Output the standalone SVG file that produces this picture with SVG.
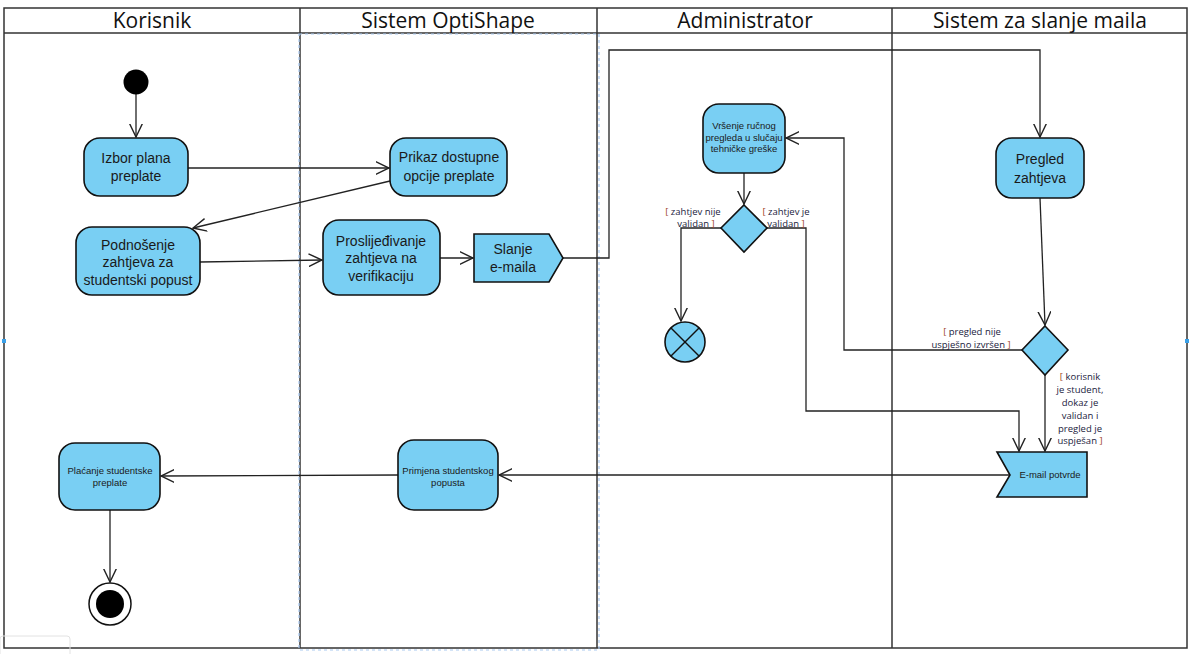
<svg xmlns="http://www.w3.org/2000/svg" width="1194" height="654" viewBox="0 0 1194 654">
<defs>
<style>
.lane{fill:none;stroke:#333;stroke-width:1.5}
.hdr{font-family:"Open Sans","Liberation Sans",sans-serif;font-size:21px;fill:#111;text-anchor:middle}
.act{fill:#79cff3;stroke:#111;stroke-width:1.6}
.t14{font-family:"Liberation Sans",Arial,sans-serif;font-size:14px;fill:#1a1a1a;text-anchor:middle}
.t9{font-family:"Liberation Sans",Arial,sans-serif;font-size:9.5px;fill:#1a1a1a;text-anchor:middle}
.g{font-family:"Open Sans","Liberation Sans",sans-serif;font-size:9.5px;fill:#1b1b40;text-anchor:middle}
.b{fill:#a0401a}
.c{fill:none;stroke:#222;stroke-width:1.3;marker-end:url(#arr)}
.sel{fill:none;stroke:#a9c9f0;stroke-width:1.2;stroke-dasharray:3 3}
</style>
<marker id="arr" markerUnits="userSpaceOnUse" markerWidth="14" markerHeight="14" viewBox="0 0 12 12" refX="11.5" refY="6" orient="auto">
<path d="M0,0.5 L11.5,6 L0,11.5" fill="none" stroke="#222" stroke-width="1.2"/>
</marker>
</defs>
<rect x="0" y="0" width="1194" height="654" fill="#fff"/>

<g id="lanes">
<rect class="lane" x="4" y="8" width="1183" height="640"/>
<line class="lane" x1="4" y1="33" x2="1187" y2="33"/>
<line class="lane" x1="300" y1="8" x2="300" y2="648"/>
<line class="lane" x1="597" y1="8" x2="597" y2="648"/>
<line class="lane" x1="892" y1="8" x2="892" y2="648"/>
<text class="hdr" x="152" y="28">Korisnik</text>
<text class="hdr" x="448" y="28">Sistem OptiShape</text>
<text class="hdr" x="745" y="28">Administrator</text>
<text class="hdr" x="1040" y="28">Sistem za slanje maila</text>
<rect class="sel" x="299" y="34" width="300" height="616"/>
<rect x="2" y="339" width="4" height="4" fill="#3aa0e8"/>
<rect x="1185" y="339" width="4" height="4" fill="#3aa0e8"/>
<rect x="0" y="636" width="70" height="24" rx="3" fill="none" stroke="#e2e2e2"/>
</g>

<g id="connectors">
<line class="c" x1="136" y1="94" x2="136" y2="137"/>
<line class="c" x1="188" y1="168" x2="389" y2="168"/>
<line class="c" x1="390" y1="181" x2="193" y2="228"/>
<line class="c" x1="200" y1="262" x2="322" y2="260"/>
<line class="c" x1="440" y1="258" x2="473" y2="258"/>
<polyline class="c" points="563,258 609,258 609,50 1040,50 1040,137"/>
<line class="c" x1="1040" y1="198" x2="1045" y2="325"/>
<polyline class="c" points="1022,350 844,350 844,138 786,138"/>
<line class="c" x1="1045" y1="375" x2="1045" y2="451"/>
<line class="c" x1="744" y1="173" x2="744" y2="204"/>
<polyline class="c" points="721,228 681,228 681,321"/>
<polyline class="c" points="767,228 806,228 806,411 1019,411 1019,451"/>
<line class="c" x1="1010" y1="475" x2="499" y2="475"/>
<line class="c" x1="398" y1="475" x2="161" y2="476"/>
<line class="c" x1="110" y1="510" x2="110" y2="582"/>
<text class="g" x="693" y="215"><tspan class="b">[</tspan> zahtjev nije</text>
<text class="g" x="696" y="227">validan <tspan class="b">]</tspan></text>
<text class="g" x="786" y="215"><tspan class="b">[</tspan> zahtjev je</text>
<text class="g" x="786" y="227">validan <tspan class="b">]</tspan></text>
<text class="g" x="972" y="335"><tspan class="b">[</tspan> pregled nije</text>
<text class="g" x="971" y="348">uspješno izvršen <tspan class="b">]</tspan></text>
<text class="g" x="1080" y="380"><tspan class="b">[</tspan> korisnik</text>
<text class="g" x="1080" y="393">je student,</text>
<text class="g" x="1080" y="406">dokaz je</text>
<text class="g" x="1080" y="419">validan i</text>
<text class="g" x="1080" y="432">pregled je</text>
<text class="g" x="1080" y="444">uspješan <tspan class="b">]</tspan></text>
</g>

<g id="start"><circle cx="136" cy="82" r="12.5" fill="#000"/></g>

<g id="izbor">
<rect class="act" x="84" y="138" width="104" height="58" rx="16"/>
<text class="t14" x="136" y="163">Izbor plana</text>
<text class="t14" x="136" y="181">preplate</text>
</g>

<g id="podnosenje">
<rect class="act" x="76" y="227" width="124" height="68" rx="16"/>
<text class="t14" x="138" y="250">Podnošenje</text>
<text class="t14" x="138" y="267">zahtjeva za</text>
<text class="t14" x="138" y="285">studentski popust</text>
</g>

<g id="prikaz">
<rect class="act" x="390" y="138" width="117" height="58" rx="16"/>
<text class="t14" x="449" y="162">Prikaz dostupne</text>
<text class="t14" x="449" y="181">opcije preplate</text>
</g>

<g id="proslijedivanje">
<rect class="act" x="323" y="220" width="117" height="75" rx="16"/>
<text class="t14" x="381" y="246">Proslijeđivanje</text>
<text class="t14" x="381" y="263">zahtjeva na</text>
<text class="t14" x="381" y="281">verifikaciju</text>
</g>

<g id="slanje">
<polygon class="act" points="474,234 549,234 563,258 549,282 474,282"/>
<text class="t14" x="513" y="254">Slanje</text>
<text class="t14" x="513" y="272">e-maila</text>
</g>

<g id="pregled">
<rect class="act" x="996" y="138" width="88" height="60" rx="16"/>
<text class="t14" x="1040" y="164">Pregled</text>
<text class="t14" x="1040" y="183">zahtjeva</text>
</g>

<g id="odluka1"><polygon class="act" points="1045,326 1068,350 1045,375 1022,350"/></g>

<g id="vrsenje">
<rect class="act" x="703" y="104" width="82" height="69" rx="16"/>
<text class="t9" x="744" y="129">Vršenje ručnog</text>
<text class="t9" x="744" y="141">pregleda u slučaju</text>
<text class="t9" x="744" y="152">tehničke greške</text>
</g>

<g id="odluka2"><polygon class="act" points="744,205 767,228 744,252 721,228"/></g>

<g id="kraj_toka">
<circle class="act" cx="685" cy="342" r="20"/>
<line x1="671" y1="328" x2="699" y2="356" stroke="#111" stroke-width="1.5"/>
<line x1="699" y1="328" x2="671" y2="356" stroke="#111" stroke-width="1.5"/>
</g>

<g id="email_potvrde">
<polygon class="act" points="997,452 1087,452 1087,497 997,497 1010,475"/>
<text class="t9" x="1050" y="478">E-mail potvrde</text>
</g>

<g id="primjena">
<rect class="act" x="398" y="440" width="100" height="70" rx="16"/>
<text class="t9" x="448" y="474">Primjena studentskog</text>
<text class="t9" x="448" y="486">popusta</text>
</g>

<g id="placanje">
<rect class="act" x="59" y="443" width="101" height="67" rx="16"/>
<text class="t9" x="110" y="474">Plaćanje studentske</text>
<text class="t9" x="110" y="486">preplate</text>
</g>

<g id="kraj">
<circle cx="110" cy="604" r="21" fill="#fff" stroke="#111" stroke-width="1.5"/>
<circle cx="110" cy="604" r="14" fill="#000"/>
</g>
</svg>
